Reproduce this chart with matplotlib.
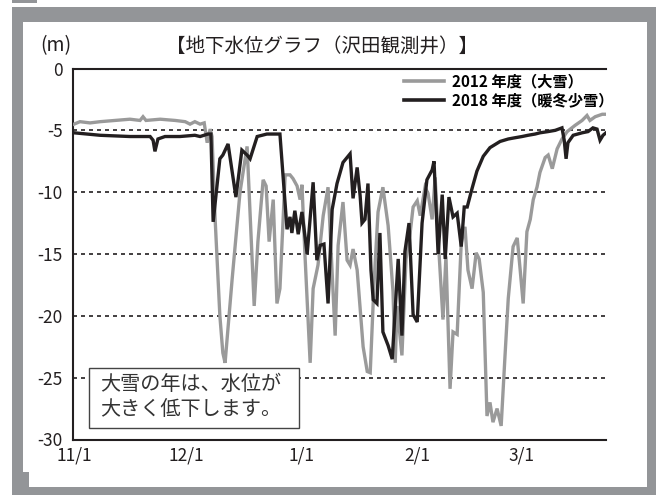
import matplotlib
matplotlib.use('Agg')
import matplotlib.pyplot as plt
from matplotlib.patches import Rectangle
from matplotlib.lines import Line2D

plt.rcParams['font.family'] = ['Noto Sans CJK JP', 'DejaVu Sans']

W, H = 656, 495

# ---- data ----
tick_days = [0, 30, 61, 92, 120]
tick_labels = ['11/1', '12/1', '1/1', '2/1', '3/1']
y_ticks = [0, -5, -10, -15, -20, -25, -30]
grid_levels = [-5, -10, -15, -20, -25]

days_2012 = [0, 1.6, 4.3, 7.0, 11.0, 15.0, 17.7, 18.5, 19.3, 23.1, 27.1, 29.8, 31.1, 32.4,
             33.8, 34.9, 35.7, 36.5, 37.0, 37.8, 39.1, 39.9, 40.5, 42.4, 44.5, 46.4, 48.3,
             49.3, 50.7, 51.5, 52.3, 53.4, 54.4, 55.2, 56.6, 57.9, 58.7, 59.8, 60.6, 61.1,
             61.9, 63.3, 64.1, 65.4, 66.8, 68.1, 70.0, 70.8, 72.1, 73.2, 74.0, 74.8, 75.9,
             77.5, 78.6, 79.4, 80.4, 81.5, 82.8, 84.2, 85.5, 86.1, 86.6, 87.9, 89.0, 90.1,
             90.9, 92.0, 92.8, 94.1, 94.9, 96.0, 96.8, 97.9, 98.9, 99.7, 100.8, 101.6, 102.7,
             103.8, 104.8, 105.6, 106.7, 107.8, 108.6, 109.7, 110.7, 111.5, 112.3, 113.4,
             114.5, 115.5, 116.4, 117.7, 118.8, 119.6, 120.4, 121.4, 122.3, 123.1, 124.1,
             124.9, 126.3, 127.1, 128.2, 129.5, 130.8, 132.2, 134.3, 136.2, 137.5, 138.3,
             139.7, 141.6, 142.9]
level_2012 = [-4.5, -4.3, -4.4, -4.3, -4.2, -4.1, -4.2, -3.9, -4.2, -4.1, -4.2, -4.3, -4.5, -4.3,
              -4.5, -4.4, -6.0, -4.9, -5.5, -12.0, -20.0, -23.0, -23.8, -17.0, -10.0, -6.3, -19.2,
              -14.0, -9.0, -9.5, -14.0, -10.6, -19.0, -17.8, -8.6, -8.6, -8.9, -9.5, -10.6, -9.4,
              -15.0, -23.8, -17.8, -15.9, -11.9, -9.6, -21.6, -14.3, -10.8, -15.5, -15.9, -14.6, -16.3,
              -22.5, -24.5, -24.6, -17.5, -11.6, -9.6, -12.7, -18.0, -23.8, -19.2, -23.2, -15.4, -13.3,
              -11.2, -10.7, -11.9, -9.6, -10.1, -12.2, -8.8, -15.2, -20.3, -15.2, -25.9, -21.3, -21.5,
              -14.1, -12.8, -16.3, -17.8, -14.9, -15.4, -18.1, -28.1, -27.0, -28.6, -27.5,
              -28.9, -23.4, -18.6, -14.4, -13.7, -16.3, -19.0, -13.2, -12.2, -10.6, -9.6,
              -8.4, -7.2, -7.0, -8.1, -6.5, -5.7, -5.1, -4.6, -4.2, -3.8, -4.2,
              -3.9, -3.7, -3.7]

days_2018 = [0, 7.0, 15.0, 20.4, 21.2, 21.7, 22.5, 24.4, 28.4, 32.4, 33.8, 35.9, 36.7, 37.3,
             39.1, 39.9, 41.3, 43.4, 45.0, 46.4, 47.2, 49.1, 50.4, 51.7, 55.2, 57.1, 57.9, 58.4,
             59.2, 60.1, 61.1, 62.5, 64.1, 65.1, 66.0, 67.0, 68.1, 69.2, 70.5, 72.1, 74.0, 74.8,
             75.9, 76.7, 77.2, 78.0, 78.8, 79.6, 80.2, 81.2, 82.0, 82.8, 84.2, 85.3, 86.9, 87.9,
             88.7, 89.8, 90.9, 92.0, 93.3, 94.6, 96.0, 96.5, 97.6, 98.7, 99.5, 100.5, 101.6,
             102.7, 103.8, 104.6, 105.4, 106.7, 108.0, 109.7, 111.5, 114.2, 116.4, 118.2, 120.1,
             121.7, 123.6, 124.9, 127.1, 129.0, 130.8, 131.4, 131.9, 132.4, 133.8, 136.2, 137.8,
             139.1, 140.2, 141.0, 141.8, 142.6]
level_2018 = [-5.2, -5.4, -5.5, -5.5, -5.8, -6.7, -5.7, -5.5, -5.5, -5.4, -5.5, -5.3, -5.3, -12.4,
              -7.3, -7.0, -6.1, -10.4, -6.6, -7.0, -7.3, -5.5, -5.4, -5.3, -5.3, -13.0, -12.0, -13.3,
              -11.5, -13.4, -11.6, -15.0, -9.2, -15.5, -14.3, -14.2, -19.0, -11.4, -9.3, -7.6, -6.9, -10.5,
              -8.0, -10.3, -12.5, -12.2, -9.3, -16.3, -18.7, -19.0, -13.3, -21.3, -22.4, -23.5, -15.4, -21.6,
              -14.8, -12.5, -19.9, -20.5, -12.5, -9.0, -8.2, -7.5, -15.0, -10.2, -15.4, -10.4, -12.0,
              -11.7, -14.4, -11.2, -11.2, -9.7, -8.3, -7.1, -6.4, -5.9, -5.7, -5.6, -5.5,
              -5.4, -5.3, -5.2, -5.1, -5.0, -4.8, -5.8, -7.3, -6.0, -5.4, -5.2, -5.1,
              -4.8, -4.9, -5.8, -5.4, -5.2]

series_names = ['2012 年度（大雪）', '2018 年度（暖冬少雪）']
series_colors = ['#9a9a9a', '#231f20']
title = '【地下水位グラフ（沢田観測井）】'
unit = '(m)'
note = '大雪の年は、水位が\n大きく低下します。'

# ---- figure ----
fig = plt.figure(figsize=(W / 100, H / 100), dpi=100)
fig.patch.set_facecolor('white')


def px_rect(x0, y0, x1, y1, **kw):
    return Rectangle((x0 / W, 1 - y1 / H), (x1 - x0) / W, (y1 - y0) / H,
                     transform=fig.transFigure, **kw)


frame_gray = '#939598'
fig.add_artist(px_rect(12, 7, 656, 495, fc=frame_gray, ec='none', zorder=-3))
fig.add_artist(px_rect(23, 22, 647, 487, fc='white', ec='none', zorder=-2))
fig.add_artist(px_rect(23, 472, 29, 487, fc=frame_gray, ec='none', zorder=-1))
fig.add_artist(px_rect(12, 0, 37, 3, fc=frame_gray, ec='none', zorder=-1))

ax = fig.add_axes([72.5 / W, 1 - 439.5 / H, (606 - 72.5) / W, (439.5 - 68.5) / H])
ax.set_facecolor('none')
ax.set_xlim(-0.4, 142.6)
ax.set_ylim(-30, 0)

for v in grid_levels:
    ax.axhline(v, color='#231f20', lw=1.2, ls=(0, (2.4, 2.4)), zorder=1)

ax.plot(days_2012, level_2012, color=series_colors[0], lw=2.4, zorder=3,
        solid_joinstyle='miter')
ax.plot(days_2018, level_2018, color=series_colors[1], lw=2.4, zorder=4,
        solid_joinstyle='miter')

for s in ['left', 'bottom', 'top']:
    ax.spines[s].set_color('#231f20')
    ax.spines[s].set_linewidth(1.5)
ax.spines['right'].set_visible(False)

ax.set_xticks(tick_days)
ax.set_xticklabels(tick_labels)
ax.set_yticks(y_ticks)
ax.set_yticklabels([str(v) for v in y_ticks])
ax.tick_params(axis='both', length=0, labelsize=12.5, colors='#231f20')
ax.tick_params(axis='y', pad=7)
ax.tick_params(axis='x', pad=5)

handles = [Line2D([], [], color=c, lw=2.6) for c in series_colors]
ax.legend(handles, series_names, loc='upper right', bbox_to_anchor=(613 / W, 1 - 73 / H),
          bbox_transform=fig.transFigure, frameon=False,
          prop={'size': 11, 'weight': 'bold'}, handlelength=2.6,
          handletextpad=0.5, labelspacing=0.2, borderpad=0, borderaxespad=0)

fig.text(322 / W, 1 - 46 / H, title, fontsize=14, ha='center', va='center', color='#231f20')
fig.text(56 / W, 1 - 46 / H, unit, fontsize=14, ha='center', va='center', color='#231f20')

fig.add_artist(px_rect(89, 368, 299, 428, fc='white', ec='#444444', lw=1.0, zorder=5))
fig.text(100 / W, 1 - 397 / H, note, fontsize=14.5, ha='left', va='center',
         linespacing=1.2, color='#333333', zorder=6)

fig.savefig('out.png', dpi=100)
